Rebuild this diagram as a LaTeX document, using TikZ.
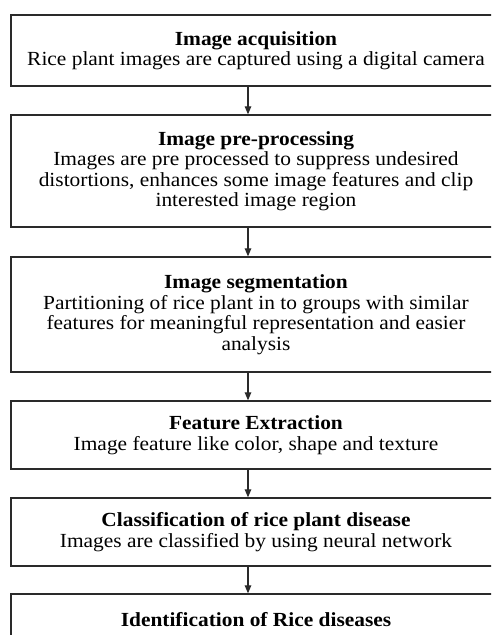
\documentclass[tikz,border=0pt]{standalone}
\usepackage{fontspec}
\setmainfont[FakeStretch=1.07]{Liberation Serif}
\usetikzlibrary{arrows.meta,positioning}
\definecolor{ink}{HTML}{2A2A2A}
\tikzset{
  stagebox/.style={draw=ink,fill=white,line width=1.3pt,
                   minimum width=490pt,align=center,inner sep=0pt,
                   font=\fontsize{20}{20.5}\selectfont},
  flowarr/.style={-{Triangle[length=8pt,width=6.5pt]},line width=1.2pt,color=ink}
}

\begin{document}
\begin{tikzpicture}[x=1pt,y=-1pt]
  \useasboundingbox (0,0) rectangle (491,635);
  \clip (0,0) rectangle (491,635);

  \node[stagebox,minimum height=71pt] (acq) at (256,50.5)
    {\textbf{Image acquisition}\\Rice plant images are captured using a digital camera};
  \node[stagebox,minimum height=112pt] (pre) at (256,171)
    {\textbf{Image pre-processing}\\Images are pre processed to suppress undesired\\
     distortions, enhances some image features and clip\\interested image region};
  \node[stagebox,minimum height=115pt] (seg) at (256,314.5)
    {\textbf{Image segmentation}\\Partitioning of rice plant in to groups with similar\\
     features for meaningful representation and easier\\analysis};
  \node[stagebox,minimum height=68pt] (feat) at (256,435)
    {\textbf{Feature Extraction}\\Image feature like color, shape and texture};
  \node[stagebox,minimum height=68pt] (cls) at (256,532)
    {\textbf{Classification of rice plant disease}\\Images are classified by using neural network};
  \node[stagebox,minimum height=52pt] (ident) at (256,620)
    {\textbf{Identification of Rice diseases}};

  % arrows sit a little left of the box centres
  \draw[flowarr] ([xshift=-8pt]acq.south) -- ([xshift=-8pt]pre.north);
  \draw[flowarr] ([xshift=-8pt]pre.south) -- ([xshift=-8pt]seg.north);
  \draw[flowarr] ([xshift=-8pt]seg.south) -- ([xshift=-8pt]feat.north);
  \draw[flowarr] ([xshift=-8pt]feat.south) -- ([xshift=-8pt]cls.north);
  \draw[flowarr] ([xshift=-8pt]cls.south) -- ([xshift=-8pt]ident.north);
\end{tikzpicture}
\end{document}
